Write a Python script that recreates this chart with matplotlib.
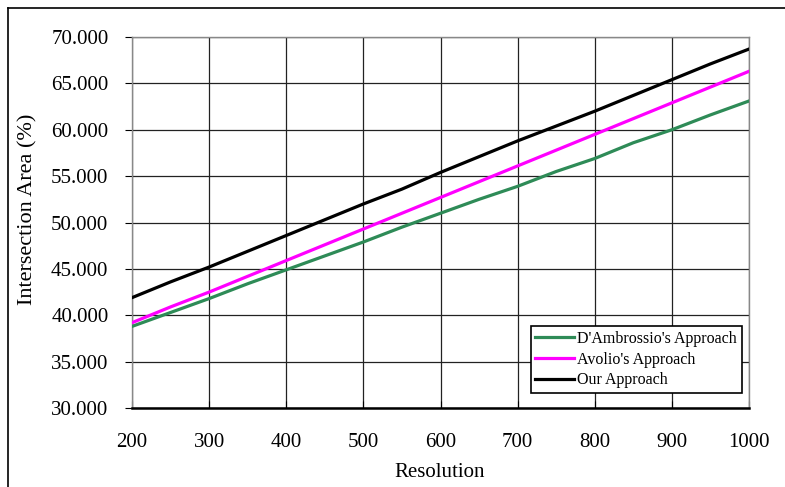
import matplotlib
matplotlib.use('Agg')
import matplotlib.pyplot as plt
from matplotlib.lines import Line2D

# data
res = [200, 250, 300, 350, 400, 450, 500, 550, 600, 650, 700, 750, 800, 850, 900, 950, 1000]
ours = [41.9, 43.6, 45.2, 46.9, 48.6, 50.3, 52.0, 53.6, 55.4, 57.1, 58.8, 60.4, 62.0, 63.7, 65.4, 67.1, 68.7]
avolio = [39.2, 40.9, 42.5, 44.2, 45.9, 47.6, 49.3, 51.0, 52.7, 54.4, 56.1, 57.8, 59.5, 61.2, 62.9, 64.6, 66.3]
dambrossio = [38.8, 40.3, 41.8, 43.4, 44.9, 46.4, 47.9, 49.5, 51.0, 52.5, 53.9, 55.5, 56.9, 58.6, 60.0, 61.6, 63.1]

plt.rcParams['font.family'] = ['Liberation Serif', 'DejaVu Serif']

fig = plt.figure(figsize=(7.85, 4.87), dpi=100)
ax = fig.add_axes([0.1682, 0.1622, 0.7859, 0.7618])

ax.plot(res, dambrossio, color='#2E8B57', lw=2.3, label="D'Ambrossio's Approach", zorder=3)
ax.plot(res, avolio, color='#FF00FF', lw=2.3, label="Avolio's Approach", zorder=3)
ax.plot(res, ours, color='black', lw=2.3, label="Our Approach", zorder=3)

ax.set_xlim(200, 1000)
ax.set_ylim(30, 70)
ax.set_xticks(range(200, 1001, 100))
ax.set_yticks(range(30, 71, 5))
ax.set_yticklabels(['%.3f' % v for v in range(30, 71, 5)])
ax.grid(True, color='#222222', lw=0.9, zorder=1)

ax.tick_params(axis='y', direction='out', length=5, pad=12, labelsize=15)
ax.tick_params(axis='x', direction='in', length=5, pad=18, labelsize=15)

for s in ['top', 'right', 'left']:
    ax.spines[s].set_color('#888888')
    ax.spines[s].set_linewidth(1.0)
ax.spines['bottom'].set_color('black')
ax.spines['bottom'].set_linewidth(1.8)

ax.set_xlabel('Resolution', fontsize=15)
ax.set_ylabel('Intersection Area (%)', fontsize=16)
ax.xaxis.set_label_coords(0.499, -0.1725)
ax.yaxis.set_label_coords(-0.1686, 0.536)
ax.xaxis.label.set_va('center')
ax.yaxis.label.set_va('center')

leg = ax.legend(loc='lower right', bbox_to_anchor=(0.988, 0.04), fontsize=11.5,
                frameon=True, fancybox=False, framealpha=1, edgecolor='black',
                handlelength=2.4, handletextpad=0.2, labelspacing=0.3,
                borderpad=0.3, borderaxespad=0)
leg.get_frame().set_linewidth(1.2)

# outer frame (top and left edges visible)
fx = 8 / 785
fy = 1 - 8 / 487
fig.add_artist(Line2D([fx, fx], [0, fy], color='black', lw=1.2, transform=fig.transFigure))
fig.add_artist(Line2D([fx, 1], [fy, fy], color='black', lw=1.2, transform=fig.transFigure))

fig.savefig('out.png', dpi=100)
